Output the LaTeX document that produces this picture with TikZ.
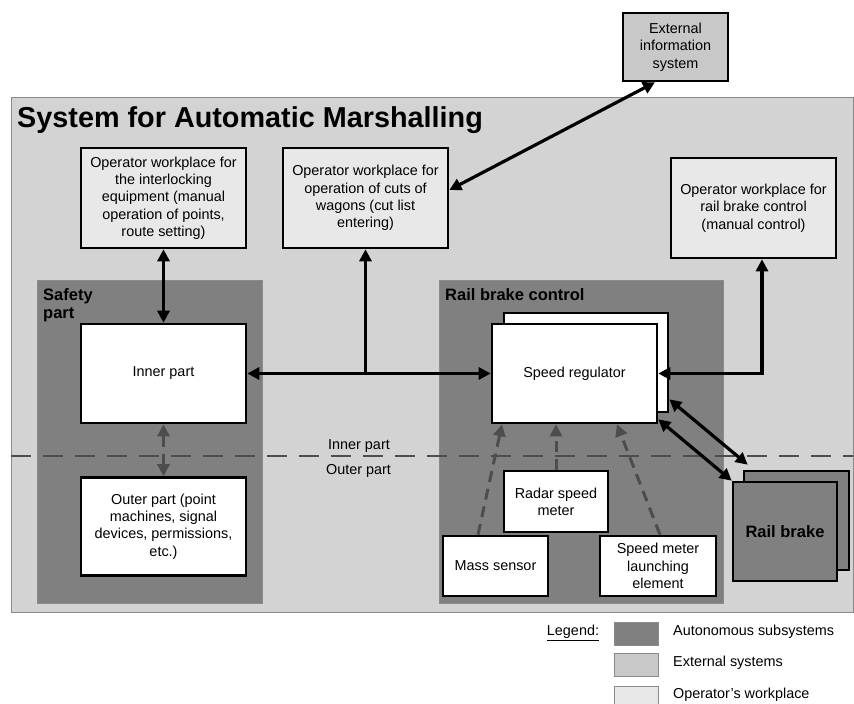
\documentclass[tikz,border=0pt]{standalone}
\usepackage{fontspec}
\setmainfont{Liberation Sans}
\usetikzlibrary{arrows.meta,calc}
\definecolor{autocol}{HTML}{808080}
\definecolor{extcol}{HTML}{C8C8C8}
\definecolor{maincol}{HTML}{D3D3D3}
\definecolor{opcol}{HTML}{E8E8E8}
\definecolor{dashcol}{HTML}{4D4D4D}
\definecolor{framecol}{HTML}{8A8A8A}
\begin{document}
\begin{tikzpicture}[x=1pt,y=-1pt,
  txt/.style={font=\fontsize{14.4}{17.3}\selectfont},
  bigtxt/.style={font=\fontsize{16.5}{18}\selectfont\bfseries},
  box/.style={draw=black, line width=2.6pt, align=center, inner sep=2pt, txt},
  opbox/.style={box, fill=opcol, minimum width=165pt, minimum height=100pt},
  whitebox/.style={box, fill=white},
  region/.style={draw=framecol, line width=1pt},
  conn/.style={draw=black, line width=3.2pt, {Triangle[length=12pt,width=12pt]}-{Triangle[length=12pt,width=12pt]}},
  connone/.style={draw=black, line width=3.2pt, -{Triangle[length=12pt,width=12pt]}},
  gconn/.style={draw=dashcol, line width=3pt, dash pattern=on 11pt off 7pt, -{Triangle[length=12pt,width=12pt]}},
  gconnboth/.style={draw=dashcol, line width=3pt, dash pattern=on 11pt off 7pt, {Triangle[length=12pt,width=12pt]}-{Triangle[length=12pt,width=12pt]}},
  legbox/.style={draw=framecol, line width=1pt, minimum width=44pt, minimum height=23pt, inner sep=0pt}
]
\useasboundingbox (0,0) rectangle (854,704);
\fill[white] (0,0) rectangle (854,704);

% main system area
\draw[region, fill=maincol] (11,97) rectangle (853,612);
\node[anchor=base west, inner sep=0pt, font=\fontsize{28.8}{30}\selectfont\bfseries] (title) at (17,127) {System for Automatic Marshalling};

% external information system
\node[box, fill=extcol, minimum width=105pt, minimum height=68pt] (ext) at (675.5,47) {External\\information\\system};

% operator workplaces
\node[opbox] (opI) at (163.5,198) {Operator workplace for\\the interlocking\\equipment (manual\\operation of points,\\route setting)};
\node[opbox] (opC) at (365.5,198) {Operator workplace for\\operation of cuts of\\wagons (cut list\\entering)};
\node[opbox] (opR) at (753.5,208) {Operator workplace for\\rail brake control\\(manual control)};

% autonomous subsystems
\draw[region, fill=autocol] (37,280) rectangle (262,603);
\node[anchor=north west, inner sep=0pt, align=left, bigtxt] (safetylbl) at (43,288) {Safety\\part};
\draw[region, fill=autocol] (439,280) rectangle (723,603);
\node[anchor=north west, inner sep=0pt, bigtxt] (rbclbl) at (445,288) {Rail brake control};

% inner / outer separation
\draw[dashcol, line width=2.8pt, dash pattern=on 20pt off 12pt] (11,456) -- (853,456);
\node[txt, inner sep=0pt] (innerlbl) at (359,446) {Inner part};
\node[txt, inner sep=0pt] (outerlbl) at (358.5,471) {Outer part};

% safety part boxes
\node[whitebox, minimum width=165pt, minimum height=99pt] (inner) at (163.5,373.5) {Inner part};
\node[whitebox, minimum width=165pt, minimum height=98pt] (outer) at (163.5,526.5) {Outer part (point\\machines, signal\\devices, permissions,\\etc.)};

% rail brake control boxes
\node[whitebox, minimum width=164pt, minimum height=99pt] (spback) at (586,362.5) {};
\node[whitebox, minimum width=165pt, minimum height=99pt] (sp) at (574.5,373.5) {Speed regulator};
\node[whitebox, minimum width=104pt, minimum height=61pt] (radar) at (556,501.5) {Radar speed\\meter};
\node[whitebox, minimum width=105pt, minimum height=60pt] (mass) at (495.5,566) {Mass sensor};
\node[whitebox, minimum width=116pt, minimum height=60pt] (launch) at (658,566) {Speed meter\\launching\\element};

% rail brake
\node[box, fill=autocol, minimum width=105pt, minimum height=99pt] (rbback) at (796.5,520.5) {};
\node[box, fill=autocol, minimum width=104pt, minimum height=99pt, bigtxt] (rb) at (785,531.5) {Rail brake};

% connectors
\draw[conn] (opI.south) -- (inner.north);
\draw[conn] (inner.east) -- (sp.west);
\coordinate (junc) at (opC.south |- inner.east);
\draw[connone] (junc) -- (opC.south);
\draw[conn] ([yshift=8pt]opC.east) -- ([xshift=-20.5pt]ext.south);
\draw[conn] (sp.east) -| ([xshift=8.5pt]opR.south);
\draw[conn] ([yshift=14pt]spback.south east) -- ([xshift=5pt,yshift=5pt]rbback.north west);
\draw[conn] ([yshift=5pt]sp.south east) -- (rb.north west);

% dashed signal connectors
\draw[gconnboth] (inner.south) -- (outer.north);
\draw[gconn] ([xshift=-17.5pt]mass.north) -- ([xshift=-72.5pt]sp.south);
\draw[gconn] (radar.north) -- (radar.north |- sp.south);
\draw[gconn] ([xshift=2pt]launch.north) -- ([xshift=42.5pt]sp.south);

% legend
\node[txt, inner sep=0pt] (leg) at (573,633) {\underline{Legend:}};
\node[legbox, fill=autocol] (lg1) at (636,633.5) {};
\node[legbox, fill=extcol] (lg2) at (636,664.5) {};
\node[legbox, fill=opcol] (lg3) at (636,697.5) {};
\node[txt, anchor=west, inner sep=0pt] (lt1) at (673,632) {Autonomous subsystems};
\node[txt, anchor=west, inner sep=0pt] (lt2) at (673,663) {External systems};
\node[txt, anchor=west, inner sep=0pt] (lt3) at (673,695) {Operator's workplace};
\end{tikzpicture}
\end{document}
